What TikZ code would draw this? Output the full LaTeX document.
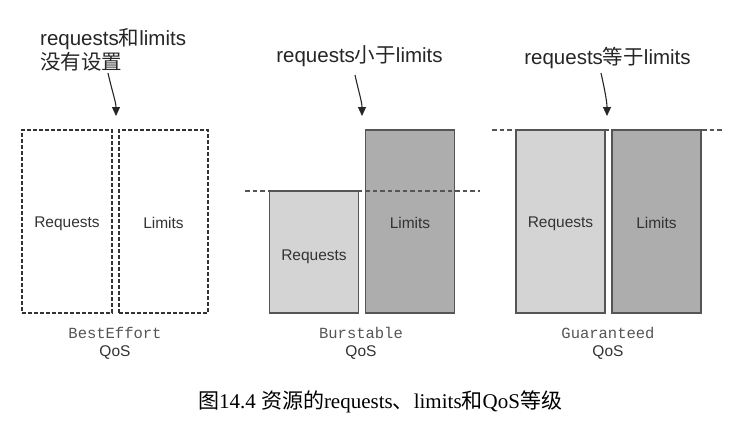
\documentclass[tikz,border=0pt]{standalone}
\usepackage{fontspec}
\setmainfont{Liberation Sans}
\setmonofont{Liberation Mono}
\newfontfamily\cjk{Noto Sans CJK SC}
\newfontfamily\serifl{Liberation Serif}
\newfontfamily\lsans{Liberation Sans}
\usetikzlibrary{arrows.meta}
\definecolor{reqfill}{HTML}{D4D4D4}
\definecolor{limfill}{HTML}{ADADAD}
\definecolor{edgec}{HTML}{555555}
\definecolor{txt}{HTML}{333333}
\definecolor{monotxt}{HTML}{555555}
\newcommand{\lowerby}[2]{\raisebox{-#1}[\height][\depth]{#2}}
\tikzset{
 bar/.style={draw=edgec, line width=1.3pt, minimum width=89pt, inner sep=0pt, text=txt, font=\lsans\fontsize{15.5}{18}\selectfont},
 reqbar/.style={bar, fill=reqfill},
 limbar/.style={bar, fill=limfill},
 emptybar/.style={bar, draw=black!80, line width=1.3pt, dash pattern=on 4pt off 2pt},
 level/.style={draw=edgec, line width=1.2pt, dash pattern=on 4.5pt off 3pt},
 note/.style={text=black!85, font=\lsans\fontsize{20.5}{24}\selectfont, inner sep=0pt},
 pointer/.style={line width=1.1pt, draw=black!85, -{Triangle[length=9pt,width=8pt]}},
 qosname/.style={font=\ttfamily\fontsize{15.5}{18}\selectfont, text=monotxt, inner sep=0pt},
 qos/.style={font=\lsans\fontsize{15.5}{18}\selectfont, text=txt, inner sep=0pt},
 caption/.style={font=\fontsize{21}{24}\selectfont, text=black, inner sep=0pt},
}
\begin{document}
\begin{tikzpicture}[x=1pt,y=-1pt]
\useasboundingbox (0,0) rectangle (747,424);
\fill[white] (0,0) rectangle (747,424);
% BestEffort
\node[emptybar, minimum width=90pt, minimum height=183pt] (beReq) at (67,221.5) {\lowerby{2pt}{Requests}};
\node[emptybar, minimum height=183pt] (beLim) at (163.5,221.5) {\lowerby{1pt}{Limits}};
% Burstable
\node[reqbar, minimum height=122pt] (buReq) at (314,252) {\lowerby{4.5pt}{Requests}};
\node[limbar, minimum height=183pt] (buLim) at (410,221.5) {\lowerby{1pt}{Limits}};
% Guaranteed
\node[reqbar, minimum height=183pt] (guReq) at (560.5,221.5) {\lowerby{2pt}{Requests}};
\node[limbar, minimum height=183pt] (guLim) at (656.5,221.5) {\lowerby{1pt}{Limits}};
% level lines
\coordinate (l1a) at (245,191);
\coordinate (l1b) at (480,191);
\coordinate (l2a) at (492,130);
\coordinate (l2b) at (722,130);
\draw[level] (l1a) -- (l1b);
\draw[level] (l2a) -- (l2b);
% notes
\node[note, align=left, anchor=west] (n1) at (40,50) {requests{\cjk 和}limits\\{\cjk 没有设置}};
\node[note] (n2) at (359.5,56) {requests{\cjk 小于}limits};
\node[note] (n3) at (607.5,58) {requests{\cjk 等于}limits};
% pointers
\coordinate (s1) at (108,73);
\coordinate (e1) at (116,116);
\coordinate (s2) at (355,75);
\coordinate (e2) at (362,116);
\coordinate (s3) at (601,73);
\coordinate (e3) at (607,116);
\draw[pointer] (s1) .. controls +(4,18) and +(0,-14) .. (e1);
\draw[pointer] (s2) .. controls +(4,18) and +(0,-14) .. (e2);
\draw[pointer] (s3) .. controls +(4,18) and +(0,-14) .. (e3);
% class names
\node[qosname] (t1) at (115,333) {BestEffort};
\node[qos] (q1) at (115,353) {QoS};
\node[qosname] (t2) at (361,333) {Burstable};
\node[qos] (q2) at (361,353) {QoS};
\node[qosname] (t3) at (608,333) {Guaranteed};
\node[qos] (q3) at (608,353) {QoS};
% caption
\node[caption] (cap) at (380,402) {{\cjk 图}{\serifl 14.4 }{\cjk 资源的}{\serifl requests}{\cjk 、}{\serifl limits}{\cjk 和}{\serifl QoS}{\cjk 等级}};
\end{tikzpicture}
\end{document}
